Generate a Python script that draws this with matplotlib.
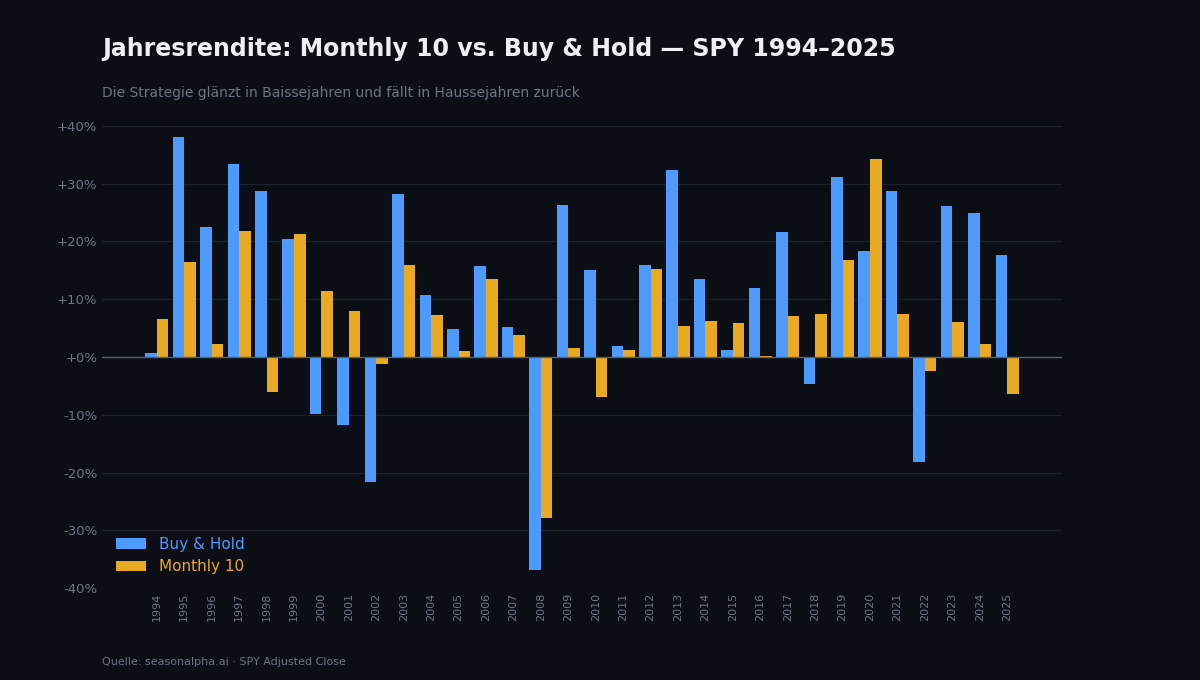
import numpy as np
import matplotlib
matplotlib.use("Agg")
import matplotlib.pyplot as plt
from matplotlib.ticker import FuncFormatter, MultipleLocator

years = list(range(1994, 2026))
buy_hold = [0.7, 38.1, 22.5, 33.4, 28.7, 20.4, -9.9, -11.8, -21.6, 28.2, 10.7, 4.8,
            15.8, 5.2, -36.9, 26.3, 15.1, 1.9, 15.9, 32.4, 13.5, 1.2, 11.9, 21.6,
            -4.7, 31.2, 18.4, 28.7, -18.2, 26.1, 24.9, 17.7]
monthly10 = [6.6, 16.4, 2.3, 21.8, -6.1, 21.3, 11.4, 8.0, -1.2, 15.9, 7.3, 1.0,
             13.5, 3.8, -27.9, 1.6, -6.9, 1.2, 15.2, 5.4, 6.2, 5.9, 0.2, 7.1,
             7.4, 16.8, 34.3, 7.4, -2.4, 6.1, 2.3, -6.4]

bg = "#0b0e15"
blue = "#4d9bff"
orange = "#e9a923"
muted = "#6b7584"

fig = plt.figure(figsize=(12, 6.8), dpi=100, facecolor=bg)
ax = fig.add_axes([0.085, 0.135, 0.8, 0.68], facecolor=bg)

x = np.arange(len(years))
w = 0.42
ax.bar(x - w / 2, buy_hold, w, color=blue, label="Buy & Hold", zorder=3)
ax.bar(x + w / 2, monthly10, w, color=orange, label="Monthly 10", zorder=3)

ax.set_xlim(-2, len(years) + 1)
ax.set_ylim(-40, 40)
ax.yaxis.set_major_locator(MultipleLocator(10))
ax.yaxis.set_major_formatter(FuncFormatter(lambda v, _: f"{v:+.0f}%" if v != 0 else "+0%"))
ax.set_xticks(x)
ax.set_xticklabels([str(y) for y in years], rotation=90, fontsize=8, color=muted)
ax.tick_params(axis="y", colors=muted, labelsize=9.5, length=0)
ax.tick_params(axis="x", length=0)
ax.grid(axis="y", color="#1c212b", linewidth=0.8, zorder=0)
ax.axhline(0, color="#5a606b", linewidth=1, zorder=4)
for s in ax.spines.values():
    s.set_visible(False)

leg = ax.legend(loc="lower left", frameon=False, fontsize=11, bbox_to_anchor=(0.0, 0.0))
for t, c in zip(leg.get_texts(), [blue, orange]):
    t.set_color(c)

fig.text(0.085, 0.918, "Jahresrendite: Monthly 10 vs. Buy & Hold — SPY 1994–2025",
         fontsize=17, fontweight="bold", color="#eef0f4")
fig.text(0.085, 0.857, "Die Strategie glänzt in Baissejahren und fällt in Haussejahren zurück",
         fontsize=10, color=muted)
fig.text(0.085, 0.022, "Quelle: seasonalpha.ai · SPY Adjusted Close", fontsize=8, color=muted)

fig.savefig("out.png", facecolor=bg)
